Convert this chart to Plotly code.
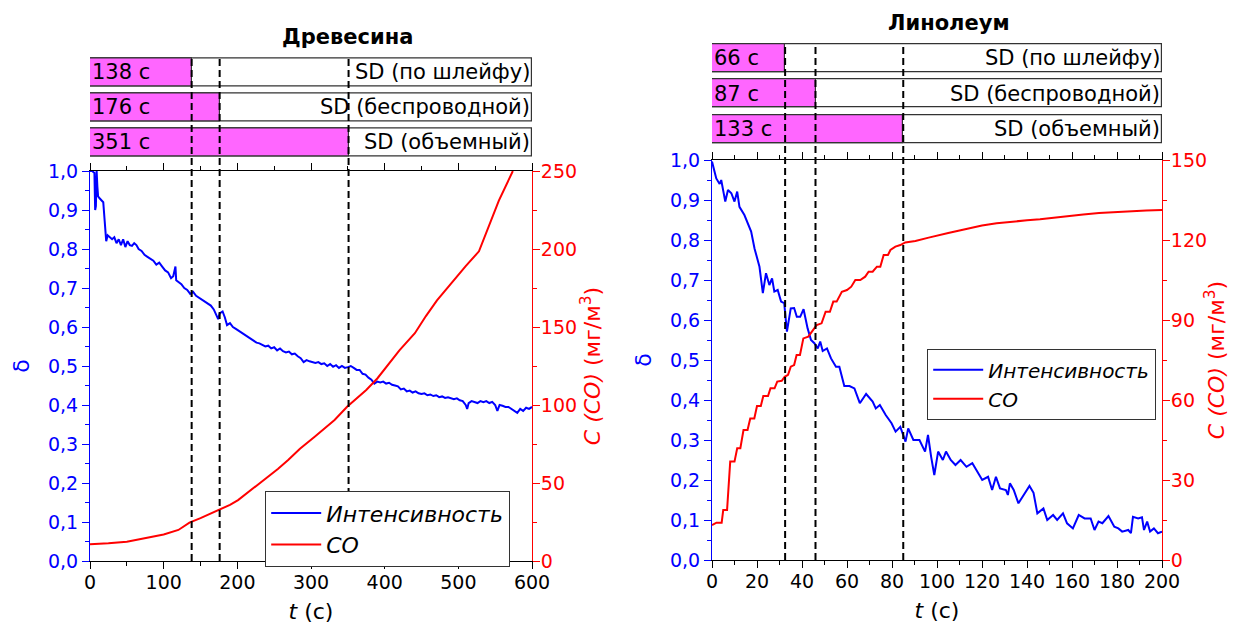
import plotly.graph_objects as go

# ---------------- data ----------------
sd_names = ["SD (по шлейфу)", "SD (беспроводной)", "SD (объемный)"]

wood_sd_labels = ["138 с", "176 с", "351 с"]
wood_sd_pos = [138, 176, 351]          # bar ends / dashed lines on the t axis
lino_sd_labels = ["66 с", "87 с", "133 с"]
lino_sd_pos = [32.5, 46, 85]           # bar ends / dashed lines on the t axis

wood_t = [0, 3, 6, 7, 8, 9, 10, 11, 13, 16,
          18, 20, 22, 24, 27, 30, 33, 36, 39, 42,
          45, 48, 51, 54, 57, 60, 63, 66, 70, 74,
          78, 82, 86, 90, 94, 98, 102, 106, 110, 113,
          116, 117, 120, 124, 128, 132, 136, 140, 144, 148,
          152, 156, 160, 164, 168, 172, 174, 176, 180, 183,
          186, 190, 194, 198, 202, 206, 210, 214, 218, 222,
          226, 230, 234, 238, 242, 246, 250, 254, 258, 262,
          266, 270, 274, 278, 282, 286, 290, 294, 298, 302,
          306, 310, 314, 318, 322, 326, 330, 334, 338, 342,
          346, 350, 354, 358, 362, 366, 370, 374, 378, 382,
          386, 390, 394, 398, 402, 406, 410, 414, 418, 422,
          426, 430, 434, 438, 442, 446, 450, 454, 458, 462,
          466, 470, 474, 478, 482, 486, 490, 494, 498, 502,
          506, 510, 512, 514, 518, 522, 526, 530, 534, 538,
          542, 546, 550, 553, 556, 560, 564, 568, 572, 576,
          580, 584, 588, 592, 596, 600]
wood_delta = [1.00, 1.00, 0.995, 0.90, 0.91, 1.00, 0.96, 0.935, 0.93, 0.925,
              0.92, 0.87, 0.82, 0.835, 0.83, 0.825, 0.83, 0.815, 0.825, 0.81,
              0.825, 0.805, 0.82, 0.81, 0.808, 0.815, 0.81, 0.80, 0.795, 0.785,
              0.78, 0.775, 0.77, 0.76, 0.765, 0.755, 0.745, 0.74, 0.725, 0.73,
              0.755, 0.72, 0.715, 0.71, 0.70, 0.695, 0.685, 0.69, 0.68, 0.675,
              0.672, 0.665, 0.66, 0.655, 0.645, 0.625, 0.62, 0.635, 0.64, 0.625,
              0.605, 0.61, 0.60, 0.595, 0.59, 0.585, 0.58, 0.575, 0.57, 0.565,
              0.56, 0.558, 0.555, 0.55, 0.552, 0.545, 0.548, 0.54, 0.545, 0.538,
              0.535, 0.537, 0.53, 0.532, 0.525, 0.52, 0.51, 0.515, 0.512, 0.51,
              0.508, 0.51, 0.505, 0.507, 0.50, 0.505, 0.498, 0.502, 0.495, 0.50,
              0.495, 0.497, 0.50, 0.495, 0.49, 0.49, 0.48, 0.478, 0.47, 0.465,
              0.455, 0.46, 0.458, 0.46, 0.455, 0.457, 0.452, 0.45, 0.448, 0.44,
              0.442, 0.435, 0.437, 0.432, 0.435, 0.43, 0.428, 0.43, 0.425, 0.427,
              0.423, 0.425, 0.42, 0.422, 0.418, 0.42, 0.417, 0.415, 0.417, 0.412,
              0.41, 0.40, 0.39, 0.405, 0.41, 0.408, 0.405, 0.41, 0.407, 0.41,
              0.405, 0.408, 0.40, 0.385, 0.40, 0.398, 0.395, 0.395, 0.39, 0.385,
              0.38, 0.39, 0.385, 0.393, 0.39, 0.395]

wood_co_t = [0, 25, 50, 75, 100, 120, 135, 150, 165, 177,
             190, 201, 220, 241, 255, 269, 285, 305, 320, 332,
             349, 362, 375, 390, 405, 420, 441, 456, 471, 490,
             510, 528, 540, 555, 574]
wood_co = [10.7, 11.3, 12.4, 14.5, 17, 19.9, 24.6, 27.5, 30.5, 33.1,
           36, 39, 46, 54, 59, 64.7, 72, 79.7, 85.5, 90.4,
           98.9, 104, 109.6, 117, 126, 135, 146, 157, 167, 178,
           189, 198.5, 213, 231, 250]

lino_t = [0, 1.9, 3.4, 4.1, 5.9, 7.1, 8.6, 10, 11.2, 12.2,
          14.4, 17.4, 18.9, 21.1, 22.6, 24, 25.5, 26.7, 27.7, 29.2,
          30.7, 32.1, 33.3, 35, 36.5, 37.7, 39.2, 40.7, 42.5, 44,
          45.5, 47, 48.1, 49.2, 51.1, 52.9, 55.1, 56.6, 58.8, 61.1,
          63.3, 65.7, 68.5, 71.4, 72.8, 74.6, 77.2, 79.8, 81.6, 83.7,
          86, 87.2, 89.5, 92.2, 94.7, 96, 97.4, 98.8, 100.5, 102.6,
          104, 106.1, 108.2, 110.5, 113.1, 115.7, 117.5, 120.1, 122.7, 124.5,
          126.2, 128, 130.6, 131.5, 132.4, 134.1, 136.2, 138.5, 141.1, 142.9,
          144.6, 147.3, 149, 151.6, 153.4, 156, 157.8, 160.4, 163, 165.6,
          168.3, 170, 171.8, 173.5, 176.2, 178.8, 180.6, 182.3, 185, 186.2,
          187.1, 189.4, 191.1, 192, 193.4, 194.7, 196.4, 198.2, 200]
lino_delta = [0.996, 0.954, 0.94, 0.95, 0.896, 0.925, 0.917, 0.896, 0.921, 0.883,
              0.8625, 0.821, 0.779, 0.733, 0.667, 0.717, 0.6875, 0.704, 0.671, 0.675,
              0.646, 0.642, 0.571, 0.629, 0.63, 0.608, 0.608, 0.627, 0.579, 0.55,
              0.542, 0.529, 0.546, 0.5225, 0.529, 0.504, 0.483, 0.483, 0.435, 0.435,
              0.429, 0.392, 0.415, 0.396, 0.379, 0.3875, 0.3625, 0.342, 0.321, 0.333,
              0.296, 0.329, 0.30, 0.30, 0.271, 0.3125, 0.258, 0.2125, 0.271, 0.25,
              0.271, 0.25, 0.2375, 0.25, 0.233, 0.242, 0.225, 0.20, 0.208, 0.175,
              0.208, 0.179, 0.175, 0.1625, 0.1917, 0.175, 0.1417, 0.1625, 0.185, 0.168,
              0.1167, 0.129, 0.10, 0.1125, 0.10, 0.1167, 0.0917, 0.079, 0.1125, 0.104,
              0.104, 0.075, 0.096, 0.092, 0.11, 0.083, 0.079, 0.071, 0.075, 0.067,
              0.108, 0.104, 0.107, 0.075, 0.096, 0.071, 0.079, 0.067, 0.071]

lino_co_t = [0, 2, 4.3, 5, 6.7, 8.1, 10, 11.2, 12.6, 14,
             15.8, 17, 18.8, 20, 21.7, 22.8, 24.9, 26, 27.8, 29,
             31, 32.3, 33.8, 35, 36.5, 37.6, 39.1, 40.6, 42.8, 44.3,
             46.5, 48.7, 50.5, 52.4, 53.9, 55.4, 57.7, 60, 61.9, 63.7,
             65.9, 68.1, 69.6, 71.4, 73.3, 74.8, 76.3, 78.2, 79.3, 81.5,
             83.7, 85.9, 90.4, 96.3, 100.7, 105, 109.5, 115, 120, 126.5,
             133, 140, 145.8, 152, 158, 165, 172, 180, 187.3, 193,
             200]
lino_co = [13.1, 14, 14, 18.75, 18.75, 36.9, 36.9, 41.9, 41.9, 48.75,
           48.75, 53.1, 53.1, 57.75, 57.75, 61.5, 61.5, 64.4, 64.4, 66.9,
           67.2, 68.7, 69.4, 72.5, 73.1, 76.9, 76.9, 83.1, 83.75, 85.6,
           88.1, 88.75, 93.1, 93.1, 96.9, 96.9, 100.6, 101.25, 102.5, 105,
           105, 106.25, 108.1, 108.1, 110, 110, 114.4, 114.4, 116.25, 117.5,
           118.1, 119.1, 119.6, 120.9, 121.9, 122.6, 123.5, 124.6, 125.4, 126.25,
           126.9, 127.4, 127.75, 128.4, 128.9, 129.6, 130.1, 130.5, 130.9, 131.1,
           131.25]

# ---------------- layout constants ----------------
W, H = 1237, 626
FONT = "'DejaVu Sans', Arial, sans-serif"
BLUE = "#0000FF"
RED = "#FF0000"
MAGENTA = "#FF66FF"


def px(v):
    return v / W


def py(v):
    return (H - v) / H


# plot areas (pixels)
L = dict(x0=90, x1=532, top=171, bot=561, bar_top=54.5, bar_bot=159.5, bar1_top=58)
R = dict(x0=712, x1=1162, top=160, bot=560, bar_top=40.25, bar_bot=146.75, bar1_top=44)

fig = go.Figure()

# ---- left panel traces ----
fig.add_trace(go.Bar(orientation="h", y=[0, 1, 2], x=[600] * 3, base=0, width=0.8,
                     marker=dict(color="white", line=dict(color="#333", width=1.2)),
                     xaxis="x", yaxis="y3", showlegend=False, hoverinfo="skip"))
fig.add_trace(go.Bar(orientation="h", y=[0, 1, 2], x=wood_sd_pos, base=0, width=0.8,
                     marker=dict(color=MAGENTA, line=dict(color="#333", width=1.2)),
                     xaxis="x", yaxis="y3", showlegend=False, hoverinfo="skip"))
fig.add_trace(go.Scatter(x=wood_t, y=wood_delta, mode="lines", name="<i>Интенсивность</i>",
                         line=dict(color=BLUE, width=2), xaxis="x", yaxis="y", legend="legend"))
fig.add_trace(go.Scatter(x=wood_co_t, y=wood_co, mode="lines", name="<i>CO</i>",
                         line=dict(color=RED, width=2), xaxis="x", yaxis="y2", legend="legend"))

# ---- right panel traces ----
fig.add_trace(go.Bar(orientation="h", y=[0, 1, 2], x=[200] * 3, base=0, width=0.8,
                     marker=dict(color="white", line=dict(color="#333", width=1.2)),
                     xaxis="x2", yaxis="y6", showlegend=False, hoverinfo="skip"))
fig.add_trace(go.Bar(orientation="h", y=[0, 1, 2], x=lino_sd_pos, base=0, width=0.8,
                     marker=dict(color=MAGENTA, line=dict(color="#333", width=1.2)),
                     xaxis="x2", yaxis="y6", showlegend=False, hoverinfo="skip"))
fig.add_trace(go.Scatter(x=lino_t, y=lino_delta, mode="lines", name="<i>Интенсивность</i>",
                         line=dict(color=BLUE, width=2), xaxis="x2", yaxis="y4", legend="legend2"))
fig.add_trace(go.Scatter(x=lino_co_t, y=lino_co, mode="lines", name="<i>CO</i>",
                         line=dict(color=RED, width=2), xaxis="x2", yaxis="y5", legend="legend2"))

tickfont = dict(family=FONT, size=19)


def xax(dom, anchor, rng, dtick, mdtick):
    return dict(domain=dom, anchor=anchor, range=rng, dtick=dtick, showline=True,
                automargin=False, ticklabelstandoff=-3,
                linecolor="black", linewidth=1, mirror="ticks", ticks="outside",
                ticklen=7, tickcolor="black", tickfont=dict(color="black", **tickfont),
                minor=dict(dtick=mdtick, ticks="outside", ticklen=4, tickcolor="black"),
                showgrid=False, zeroline=False,
                title=dict(text="<i>t</i> (с)", font=dict(family=FONT, size=22, color="black"),
                           standoff=11))


def yax_left(dom, anchor):
    return dict(domain=dom, anchor=anchor, range=[0, 1], dtick=0.1, tickformat=".1f",
                automargin=False,
                showline=True, linecolor=BLUE, linewidth=1, ticks="outside", ticklen=7,
                tickcolor=BLUE, tickfont=dict(color=BLUE, **tickfont),
                minor=dict(dtick=0.05, ticks="outside", ticklen=4, tickcolor=BLUE),
                showgrid=False, zeroline=False,
                title=dict(text="δ", font=dict(family=FONT, size=22, color=BLUE), standoff=12))


def yax_right(over, anchor, rng, dtick, mdtick):
    return dict(overlaying=over, anchor=anchor, side="right", range=rng, dtick=dtick,
                automargin=False, ticklabelstandoff=-3,
                showline=True, linecolor=RED, linewidth=1, ticks="outside", ticklen=7,
                tickcolor=RED, tickfont=dict(color=RED, **tickfont),
                minor=dict(dtick=mdtick, ticks="outside", ticklen=4, tickcolor=RED),
                showgrid=False, zeroline=False,
                title=dict(text="<i>C (CO)</i> (мг/м<sup>3</sup>)",
                           font=dict(family=FONT, size=22, color=RED), standoff=2))


def ybar(dom, anchor):
    return dict(domain=dom, anchor=anchor, range=[2.5, -0.5], visible=False,
                fixedrange=True, automargin=False)


fig.update_layout(
    template="none",
    width=W, height=H, margin=dict(l=0, r=0, t=0, b=0, autoexpand=False), autosize=False,
    paper_bgcolor="white", plot_bgcolor="white",
    separators=", ", barmode="overlay", bargap=0,
    font=dict(family=FONT, color="black"),
    xaxis=xax([px(L["x0"]), px(L["x1"])], "y", [0, 600], 100, 50),
    yaxis=yax_left([py(L["bot"]), py(L["top"])], "x"),
    yaxis2=yax_right("y", "x", [0, 250], 50, 25),
    yaxis3=ybar([py(L["bar_bot"]), py(L["bar_top"])], "x"),
    xaxis2=xax([px(R["x0"]), px(R["x1"])], "y4", [0, 200], 20, 10),
    yaxis4=yax_left([py(R["bot"]), py(R["top"])], "x2"),
    yaxis5=yax_right("y4", "x2", [0, 150], 30, 15),
    yaxis6=ybar([py(R["bar_bot"]), py(R["bar_top"])], "x2"),
    legend=dict(x=px(265), y=py(491), xanchor="left", yanchor="top",
                bordercolor="#333", borderwidth=1.2, bgcolor="white", itemwidth=50,
                font=dict(family=FONT, size=22), tracegroupgap=0),
    legend2=dict(x=px(927), y=py(349), xanchor="left", yanchor="top",
                 bordercolor="#333", borderwidth=1.2, bgcolor="white", itemwidth=50,
                 font=dict(family=FONT, size=20), tracegroupgap=0),
    showlegend=True,
)

shapes = []
for p in wood_sd_pos:
    shapes.append(dict(type="line", xref="x", yref="paper", x0=p, x1=p,
                       y0=py(L["bot"]), y1=py(L["bar1_top"]),
                       line=dict(color="black", width=2, dash="7px,4px"), layer="above"))
for p in lino_sd_pos:
    shapes.append(dict(type="line", xref="x2", yref="paper", x0=p, x1=p,
                       y0=py(R["bot"]), y1=py(R["bar1_top"]),
                       line=dict(color="black", width=2, dash="7px,4px"), layer="above"))
fig.update_layout(shapes=shapes)

ann = []
barfont = dict(family=FONT, size=21, color="black")
for i, (lab, name) in enumerate(zip(wood_sd_labels, sd_names)):
    ann.append(dict(xref="x", yref="y3", x=0, y=i, text=lab, showarrow=False,
                    xanchor="left", yanchor="middle", xshift=0, font=barfont))
    ann.append(dict(xref="x", yref="y3", x=600, y=i, text=name, showarrow=False,
                    xanchor="right", yanchor="middle", xshift=0, font=barfont))
for i, (lab, name) in enumerate(zip(lino_sd_labels, sd_names)):
    ann.append(dict(xref="x2", yref="y6", x=0, y=i, text=lab, showarrow=False,
                    xanchor="left", yanchor="middle", xshift=0, font=barfont))
    ann.append(dict(xref="x2", yref="y6", x=200, y=i, text=name, showarrow=False,
                    xanchor="right", yanchor="middle", xshift=0, font=barfont))
ann.append(dict(xref="paper", yref="paper", x=px(347), y=py(37), text="<b>Древесина</b>",
                showarrow=False, xanchor="center", yanchor="middle",
                font=dict(family=FONT, size=21, color="black")))
ann.append(dict(xref="paper", yref="paper", x=px(949), y=py(23), text="<b>Линолеум</b>",
                showarrow=False, xanchor="center", yanchor="middle",
                font=dict(family=FONT, size=21, color="black")))
fig.update_layout(annotations=ann)

fig.write_html("out.html", config={"responsive": False},
               post_script="document.body.style.margin='0px';"
                           "document.body.style.overflow='hidden';")
